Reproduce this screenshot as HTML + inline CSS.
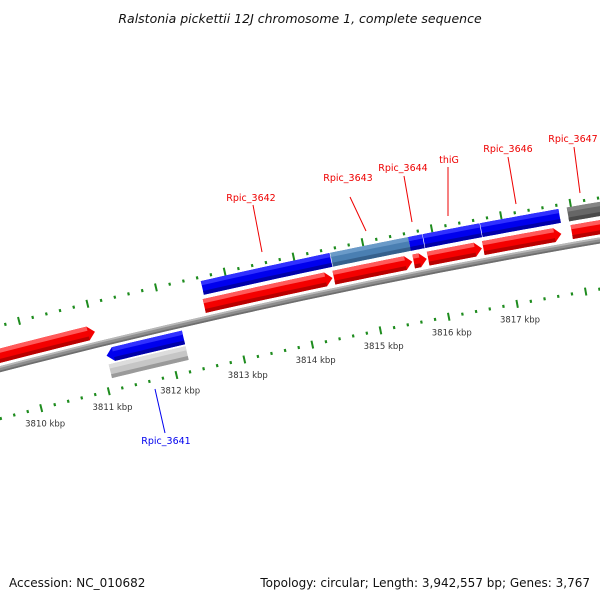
<!DOCTYPE html>
<html><head><meta charset="utf-8"><style>
html,body{margin:0;padding:0;background:#fff}
svg{display:block}
text{font-family:"DejaVu Sans","Liberation Sans",sans-serif}
</style></head><body>
<svg id="map" width="600" height="600" viewBox="0 0 600 600" xmlns="http://www.w3.org/2000/svg">
<text x="300" y="23" text-anchor="middle" font-size="12.5" font-style="italic" fill="#111">Ralstonia pickettii 12J chromosome 1, complete sequence</text>
<text x="9" y="587" font-size="12" fill="#111">Accession: NC_010682</text>
<text x="590" y="587" text-anchor="end" font-size="12" fill="#111">Topology: circular; Length: 3,942,557 bp; Genes: 3,767</text>
<g id="layer"></g>
</svg>
<script>
// ---- data (kbp) ----
const tickStart = 3809;
const tickEnd = 3819;
const tickLabels = [3810, 3811, 3812, 3813, 3814, 3815, 3816, 3817];
// upper red track (forward genes): start, end
const fwdStarts = [3808.5, 3812.61, 3814.50, 3815.66, 3815.87, 3816.67, 3817.95];
const fwdEnds   = [3811.01, 3814.48, 3815.64, 3815.85, 3816.65, 3817.80, 3819.5];
// upper blue track
const cdsStarts = [3812.64, 3814.52, 3815.65, 3815.86, 3816.69, 3817.94];
const cdsEnds   = [3814.51, 3815.65, 3815.85, 3816.68, 3817.82, 3819.5];
const cdsKinds  = ["blue", "steel", "blue", "blue", "blue", "dark"];
// lower tracks (reverse strand)
const revStarts = [3811.09];
const revEnds   = [3812.22];
const grayStarts = [3811.09];
const grayEnds   = [3812.22];
// gene labels
const geneNames = ["Rpic_3642","Rpic_3643","Rpic_3644","thiG","Rpic_3646","Rpic_3647","Rpic_3641"];

// ---- geometry ----
const CX = 1830, CY = 7436, R0 = 7300;
function ang(kb){ return (-13.18 + 0.55*(kb-3812)) * Math.PI/180; }
function pos(kb, r){ const a = ang(kb); return [CX + r*Math.sin(a), CY - r*Math.cos(a)]; }
const NS = "http://www.w3.org/2000/svg";
const layer = document.getElementById('layer');
function mk(tag, attrs){ const e = document.createElementNS(NS, tag); for (const k in attrs) e.setAttribute(k, attrs[k]); return e; }
const TIP = 0.1;
function bandPath(k1, k2, r1, r2, arrow, rm){
  const pts = [];
  let a = k1, b = k2;
  if (arrow === 'fwd') b = Math.max(k1, k2 - TIP);
  if (arrow === 'rev') a = Math.min(k2, k1 + TIP);
  const n = 12;
  for (let i=0;i<=n;i++) pts.push(pos(a+(b-a)*i/n, r1));
  if (arrow === 'fwd') pts.push(pos(k2, rm));
  for (let i=n;i>=0;i--) pts.push(pos(a+(b-a)*i/n, r2));
  if (arrow === 'rev') pts.push(pos(k1, rm));
  return 'M' + pts.map(p=>p[0].toFixed(2)+','+p[1].toFixed(2)).join('L') + 'Z';
}
function shadedBand(k1, k2, rOut, rIn, cols, arrow, name){
  const g = mk('g', {});
  
  
  const h = rOut - rIn, rm = (rOut+rIn)/2;
  const s1 = arrow === 'rev' ? k1 + TIP : k1;
  const s2 = arrow === 'fwd' ? k2 - TIP : k2;
  g.appendChild(mk('path', {d: bandPath(k1,k2,rOut,rIn,arrow,rm), fill: cols[1]}));
  g.appendChild(mk('path', {d: bandPath(s1,s2,rOut,rOut-h*0.3,'none',rm), fill: cols[0]}));
  g.appendChild(mk('path', {d: bandPath(s1,s2,rIn+h*0.28,rIn,'none',rm), fill: cols[2]}));
  layer.appendChild(g);
}
const RED = ['#ff5a5a', '#f40000', '#b80000'];
const BLUE = ['#3030ff', '#0000ee', '#0000a8'];
const STEEL = ['#6a9ac8', '#4a7fb2', '#35608c'];
const DARK = ['#858585', '#666666', '#4a4a4a'];
const LGRAY = ['#dcdcdc', '#c6c6c6', '#9a9a9a'];

// backbone
shadedBand(3808, 3820, R0+3, R0-3, ['#b8b8b8','#8e8e8e','#6e6e6e'], 'none', 'backbone');

// ticks
for (let i=0; tickStart + i*0.2 <= tickEnd + 1e-9; i++){
  const kb = tickStart + i*0.2;
  const major = (i % 5) === 0;
  [7342, 7252].forEach(function(rc){
    const half = major ? 4 : 1.5;
    const p1 = pos(kb, rc+half), p2 = pos(kb, rc-half);
    const t = mk('line', {x1:p1[0], y1:p1[1], x2:p2[0], y2:p2[1], stroke:'#1e8c1e', 'stroke-width': major?2:2.2});
    
    
    layer.appendChild(t);
  });
}
tickLabels.forEach(function(kb){
  const p = pos(kb, 7236);
  const t = mk('text', {x:p[0], y:p[1]+3, 'text-anchor':'middle', 'font-size':'8.5', fill:'#333'});
  t.textContent = kb + ' kbp';
  
  
  layer.appendChild(t);
});

// upper red track
fwdStarts.forEach(function(s, i){
  shadedBand(s, fwdEnds[i], R0+20, R0+6, RED, 'fwd', 'forward-gene');
});
// upper blue track
cdsStarts.forEach(function(s, i){
  const c = cdsKinds[i]==='steel' ? STEEL : cdsKinds[i]==='dark' ? DARK : BLUE;
  shadedBand(s, cdsEnds[i], R0+38, R0+24, c, 'none', 'cds-feature');
});
// lower tracks
revStarts.forEach(function(s, i){
  shadedBand(s, revEnds[i], R0-6, R0-20, BLUE, 'rev', 'reverse-gene');
});
grayStarts.forEach(function(s, i){
  shadedBand(s, grayEnds[i], R0-22, R0-36, LGRAY, 'none', 'reverse-feature');
});

// gene labels (text positions + leader lines)
const labelX = [251, 348, 403, 449, 508, 573, 166];
const labelY = [201, 181, 171, 163, 152, 142, 444];
const leadFrom = [[253,205],[350,197],[404,176],[448,167],[508,157],[574,147],[155,389]];
const leadTo = [[262,252],[366,231],[412,222],[448,216],[516,204],[580,193],[165,433]];
geneNames.forEach(function(nm, i){
  const col = i === 6 ? '#0000ee' : '#ee0000';
  const l = mk('line', {x1:leadFrom[i][0], y1:leadFrom[i][1], x2:leadTo[i][0], y2:leadTo[i][1], stroke:col, 'stroke-width':1});
  
  
  layer.appendChild(l);
  const t = mk('text', {x:labelX[i], y:labelY[i], 'text-anchor':'middle', 'font-size':'9.5', fill:col});
  t.textContent = nm;
  
  
  layer.appendChild(t);
});
</script>
</body></html>
